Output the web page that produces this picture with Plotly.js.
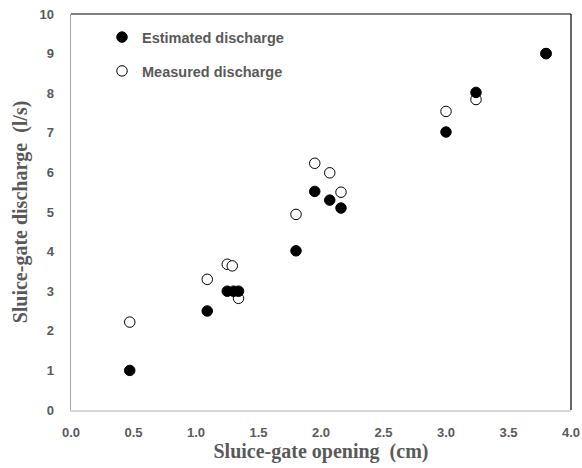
<!DOCTYPE html>
<html>
<head>
<meta charset="utf-8">
<script src="https://cdn.plot.ly/plotly-3.0.1.min.js"></script>
<style>html,body{margin:0;padding:0;background:#fff}#chart{width:582px;height:468px}</style>
</head>
<body>
<div id="chart"></div>
<script>
const openingEstimated = [0.47, 1.09, 1.25, 1.30, 1.34, 1.80, 1.95, 2.07, 2.16, 3.00, 3.24, 3.80];
const dischargeEstimated = [1.0, 2.5, 3.0, 3.0, 3.0, 4.02, 5.52, 5.30, 5.10, 7.02, 8.02, 9.0];
const openingMeasured = [0.47, 1.09, 1.25, 1.29, 1.34, 1.80, 1.95, 2.07, 2.16, 3.00, 3.24, 3.80];
const dischargeMeasured = [2.22, 3.30, 3.68, 3.64, 2.82, 4.94, 6.23, 5.99, 5.50, 7.54, 7.84, 9.0];
const xTickVals = [0, 0.5, 1.0, 1.5, 2.0, 2.5, 3.0, 3.5, 4.0];
const yTickVals = [0, 1, 2, 3, 4, 5, 6, 7, 8, 9, 10];

const tickFont = {family: 'Liberation Sans, Arial, sans-serif', size: 13, color: '#595959', weight: 'bold'};
const titleFont = {family: 'Liberation Serif, Times New Roman, serif', size: 20, color: '#595959', weight: 'bold'};

const traces = [
  {x: openingMeasured, y: dischargeMeasured, type: 'scatter', mode: 'markers', name: 'Measured discharge',
   legendgroup: 'm', legendrank: 2, marker: {size: 10.5, color: '#ffffff', line: {color: '#000000', width: 1}}},
  {x: openingEstimated, y: dischargeEstimated, type: 'scatter', mode: 'markers', name: 'Estimated discharge',
   legendgroup: 'e', legendrank: 1, marker: {size: 10.5, color: '#000000', line: {color: '#000000', width: 1}}}
];

const layout = {
  width: 582, height: 468,
  margin: {l: 71, r: 11, t: 14, b: 58},
  paper_bgcolor: '#ffffff', plot_bgcolor: '#ffffff',
  showlegend: true,
  legend: {x: 0.062, y: 0.982, xanchor: 'left', yanchor: 'top', traceorder: 'grouped', tracegroupgap: 12,
           bgcolor: 'rgba(0,0,0,0)', font: {family: 'Liberation Sans, Arial, sans-serif', size: 14.5, color: '#595959', weight: 'bold'}},
  xaxis: {range: [0, 4], tickvals: xTickVals, tickformat: '.1f', showgrid: false, zeroline: false,
          showline: true, linecolor: '#d9d9d9', linewidth: 1.5, ticks: '', ticklabelstandoff: 10, tickfont: tickFont,
          title: {text: 'Sluice-gate opening  (cm)', font: titleFont, standoff: 2}},
  yaxis: {range: [0, 10], tickvals: yTickVals, showgrid: false, zeroline: false,
          showline: true, linecolor: '#a6a6a6', linewidth: 1.5, ticks: '', ticklabelstandoff: 13, tickfont: tickFont,
          title: {text: 'Sluice-gate discharge  (l/s)', font: titleFont, standoff: 6}},
  shapes: [
    {type: 'line', xref: 'paper', yref: 'paper', x0: 0, x1: 1, y0: 1, y1: 1, line: {color: '#000000', width: 1.2}},
    {type: 'line', xref: 'paper', yref: 'paper', x0: 1, x1: 1, y0: 0, y1: 1, line: {color: '#000000', width: 1.2}}
  ]
};

Plotly.newPlot('chart', traces, layout, {displayModeBar: false, staticPlot: true});
</script>
</body>
</html>
